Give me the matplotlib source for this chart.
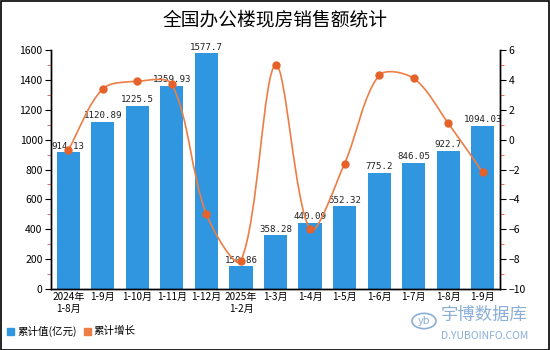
import numpy as np
import matplotlib
matplotlib.use('Agg')
import matplotlib.pyplot as plt
from matplotlib.path import Path
from matplotlib.patches import PathPatch, Circle, Rectangle

plt.rcParams['font.family'] = ['Noto Sans CJK SC', 'DejaVu Sans']

categories = ['2024年\n1-8月', '1-9月', '1-10月', '1-11月', '1-12月', '2025年\n1-2月',
              '1-3月', '1-4月', '1-5月', '1-6月', '1-7月', '1-8月', '1-9月']
values = [914.13, 1120.89, 1225.5, 1359.93, 1577.7, 150.86,
          358.28, 440.09, 552.32, 775.2, 846.05, 922.7, 1094.03]
value_labels = ['914.13', '1120.89', '1225.5', '1359.93', '1577.7', '150.86',
                '358.28', '440.09', '552.32', '775.2', '846.05', '922.7', '1094.03']
growth = [-0.7, 3.4, 3.9, 3.7, -5.0, -8.1, 5.0, -6.0, -1.6, 4.3, 4.1, 1.1, -2.2]

bar_color = '#3096DF'
line_color = '#EE7D45'
marker_color = '#E5622A'
tick_font = ['Liberation Sans Narrow', 'Noto Sans CJK SC']

fig = plt.figure(figsize=(5.5, 3.5), dpi=100)
ax = fig.add_axes([51 / 550, 61 / 350, 449 / 550, 239 / 350])
ax2 = ax.twinx()

x = np.arange(len(categories))
ax.bar(x, values, width=0.67, color=bar_color, zorder=2)
for xi, v, lab in zip(x, values, value_labels):
    ax.text(xi, v + 12, lab, ha='center', va='bottom', fontsize=6.6,
            family='DejaVu Sans Mono', color='#222222', zorder=5)

ax.set_xlim(-0.5, len(categories) - 0.5)
ax.set_ylim(0, 1600)
ax.set_yticks(np.arange(0, 1601, 200))
ax.set_yticks(np.arange(100, 1600, 200), minor=True)
ax.set_xticks(x)
ax.set_xticklabels(categories, fontsize=7.2, linespacing=1.25, family=tick_font)
ax.tick_params(axis='x', length=0, pad=2)
ax.tick_params(axis='y', which='major', length=4, pad=2)
ax.tick_params(axis='y', which='minor', length=3, color='#E05050')
for t in ax.get_yticklabels():
    t.set_family(tick_font)
    t.set_fontsize(7.5)

ax2.set_ylim(-10, 6)
ax2.set_yticks(np.arange(-10, 7, 2))
ax2.set_yticks(np.arange(-9, 6, 2), minor=True)
ax2.tick_params(axis='y', which='major', length=4, pad=2)
ax2.tick_params(axis='y', which='minor', length=3, color='#E05050')
for t in ax2.get_yticklabels():
    t.set_family(tick_font)
    t.set_fontsize(7.5)

for a in (ax, ax2):
    a.spines['top'].set_visible(False)
    for s in ('left', 'right', 'bottom'):
        a.spines[s].set_color('black')
        a.spines[s].set_linewidth(1)

# smooth line through the growth points (cubic bezier, control points from neighbours)
px = x * 34.54
py = np.array(growth) * 15.0
pts = np.column_stack([px, py])
n = len(pts)
smooth = 0.32
cps = []
for i in range(n):
    prev = pts[i - 1] if i > 0 else pts[i]
    nxt = pts[i + 1] if i < n - 1 else pts[i]
    v = nxt - prev
    d0 = np.hypot(*(pts[i] - prev))
    d1 = np.hypot(*(nxt - pts[i]))
    tot = d0 + d1 if d0 + d1 > 0 else 1
    cp_in = pts[i] - v * smooth * d0 / tot
    cp_out = pts[i] + v * smooth * d1 / tot
    cps.append((cp_in, cp_out))
verts = [pts[0]]
codes = [Path.MOVETO]
for i in range(n - 1):
    verts += [cps[i][1], cps[i + 1][0], pts[i + 1]]
    codes += [Path.CURVE4] * 3
verts = np.array(verts)
verts[:, 0] /= 34.54
verts[:, 1] /= 15.0
ax2.add_patch(PathPatch(Path(verts, codes), facecolor='none', edgecolor=line_color, lw=1.2, zorder=3))
ax2.plot(x, growth, 'o', color=marker_color, markersize=5, zorder=4)

fig.text(0.5, 1 - 20 / 350, '全国办公楼现房销售额统计', ha='center', va='center', fontsize=13.5)

# legend
fig.patches.append(Rectangle((7 / 550, 1 - 335 / 350), 7 / 550, 7 / 350, transform=fig.transFigure,
                             color=bar_color, figure=fig))
fig.text(17 / 550, 1 - 331 / 350, '累计值(亿元)', va='center', fontsize=7.6)
fig.patches.append(Rectangle((84 / 550, 1 - 335 / 350), 7 / 550, 7 / 350, transform=fig.transFigure,
                             color=line_color, figure=fig))
fig.text(93 / 550, 1 - 331 / 350, '累计增长', va='center', fontsize=7.6)

# watermark
wm = '#8AAED6'
fig.patches.append(Circle((424 / 550, 1 - 321 / 350), 12 / 550, transform=fig.transFigure,
                          facecolor='none', edgecolor=wm, lw=1.2, figure=fig))
fig.text(424 / 550, 1 - 321 / 350, 'yb', ha='center', va='center', fontsize=8, color=wm, style='italic')
fig.text(441 / 550, 1 - 315 / 350, '宇博数据库', va='center', fontsize=12.5, color=wm)
fig.text(441 / 550, 1 - 336 / 350, 'D.YUBOINFO.COM', va='center', fontsize=7.5, color=wm)

# outer frame
fig.patches.append(Rectangle((0.5 / 550, 0.5 / 350), 548.5 / 550, 348.5 / 350, transform=fig.transFigure,
                             facecolor='none', edgecolor='black', lw=1.2, figure=fig))

fig.savefig('out.png', dpi=100)
